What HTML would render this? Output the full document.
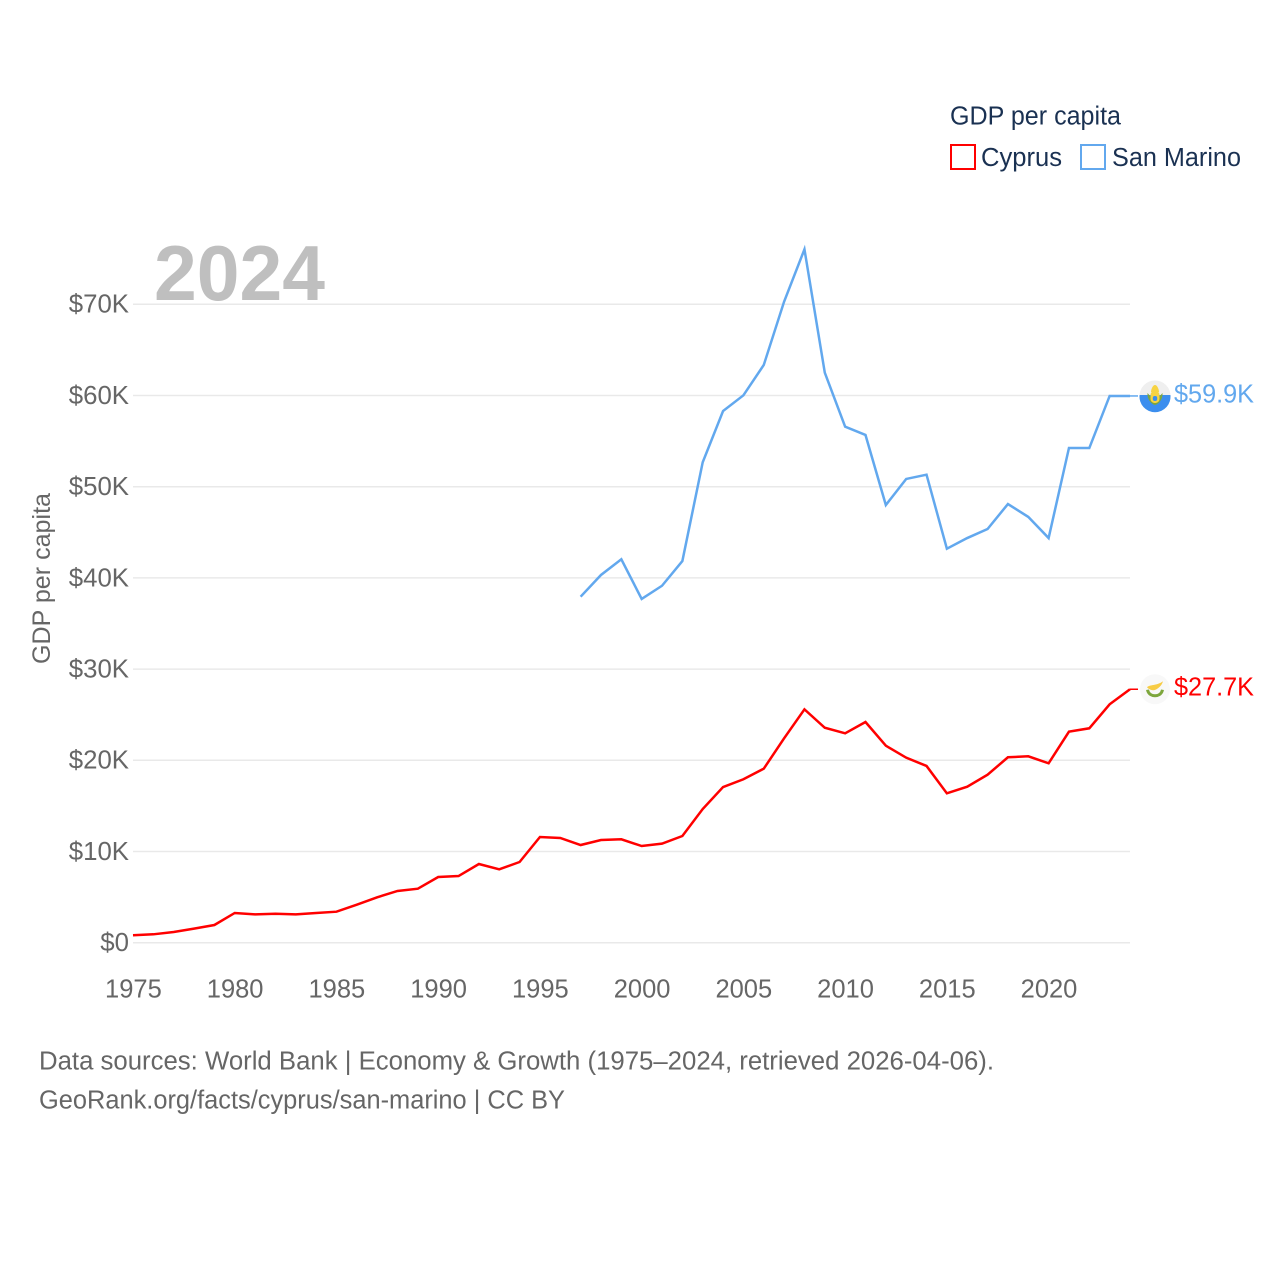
<!DOCTYPE html>
<html lang="en">
<head>
<meta charset="utf-8">
<title>GDP per capita: Cyprus and San Marino</title>
<style>
html,body{margin:0;padding:0;background:#fff;width:1280px;height:1280px;overflow:hidden}
svg{display:block}
text{font-family:"Liberation Sans",sans-serif}
</style>
</head>
<body>
<svg id="chart" xmlns="http://www.w3.org/2000/svg" width="1280" height="1280" viewBox="0 0 1280 1280">
  <rect x="0" y="0" width="1280" height="1280" fill="#ffffff"/>
  <g id="grid"></g>
  <text x="154" y="300" font-size="78" font-weight="700" fill="#bfbfbf" textLength="171" lengthAdjust="spacingAndGlyphs">2024</text>
  <g id="yticks"></g>
  <g id="xticks"></g>
  <text transform="translate(50,664) rotate(-90)" font-size="25" fill="#666666" textLength="171" lengthAdjust="spacingAndGlyphs">GDP per capita</text>
  <g id="series"></g>

  <g>
    <text x="950" y="124.5" font-size="25.5" fill="#1a3152" textLength="171" lengthAdjust="spacingAndGlyphs">GDP per capita</text>
    <g>
      <rect x="951" y="145" width="24" height="24" fill="#ffffff" stroke="#ff0000" stroke-width="2"/>
      <text x="981" y="166" font-size="25.5" fill="#1a3152" textLength="81" lengthAdjust="spacingAndGlyphs">Cyprus</text>
    </g>
    <g>
      <rect x="1081" y="145" width="24" height="24" fill="#ffffff" stroke="#62a8ee" stroke-width="2"/>
      <text x="1112" y="166" font-size="25.5" fill="#1a3152" textLength="129" lengthAdjust="spacingAndGlyphs">San Marino</text>
    </g>
  </g>

  <g id="flag-sm">
    <circle r="15.5" fill="#efefef"/>
    <path d="M-15.4 -1A15.5 15.5 0 1 0 15.4 -1Z" fill="#3b8eee"/>
    <path d="M-7.5 -3C-8 3 -4 8 0 9C4 8 8 3 7.5 -3L4 1L0 4L-4 1Z" fill="#7da63c"/>
    <rect x="-4.5" y="-5" width="9" height="12" rx="4" fill="#f7d343"/>
    <rect x="-2.2" y="0" width="4.4" height="5" rx="2" fill="#3b8eee"/>
    <path d="M-4 -4C-4 -7 -2 -11 0 -11C2 -11 4 -7 4 -4Z" fill="#f7d343"/>
  </g>
  <g id="flag-cy">
    <circle r="15" fill="#f8f8f8"/>
    <path d="M-8 -2C-5 -5 1 -3 8 -8C7 -4 3 0 -1 1C-4 1 -6 0 -8 -2Z" fill="#f7cc45"/>
    <path d="M-7.5 0.5C-6.5 5.5 -2.5 6.5 0 6.5C2.5 6.5 6.5 5.5 7.5 0.5" fill="none" stroke="#7da63c" stroke-width="3"/>
  </g>
  <g id="endlabels"></g>

  <g>
    <text x="39" y="1069.5" font-size="25.5" fill="#666666" textLength="955" lengthAdjust="spacingAndGlyphs">Data sources: World Bank | Economy &amp; Growth (1975–2024, retrieved 2026-04-06).</text>
    <text x="39" y="1108.3" font-size="25.5" fill="#666666" textLength="526" lengthAdjust="spacingAndGlyphs">GeoRank.org/facts/cyprus/san-marino | CC BY</text>
  </g>
</svg>
<script>
const yearTicks = [1975, 1980, 1985, 1990, 1995, 2000, 2005, 2010, 2015, 2020];
const valueTicks = [0, 10, 20, 30, 40, 50, 60, 70];
const valueTickLabels = ["$0", "$10K", "$20K", "$30K", "$40K", "$50K", "$60K", "$70K"];

const cyprusYears = [1975,1976,1977,1978,1979,1980,1981,1982,1983,1984,1985,1986,1987,1988,1989,1990,1991,1992,1993,1994,1995,1996,1997,1998,1999,2000,2001,2002,2003,2004,2005,2006,2007,2008,2009,2010,2011,2012,2013,2014,2015,2016,2017,2018,2019,2020,2021,2022,2023,2024];
const cyprusValues = [0.81,0.92,1.17,1.54,1.94,3.26,3.11,3.18,3.11,3.26,3.40,4.17,4.98,5.67,5.92,7.20,7.31,8.63,8.05,8.85,11.59,11.48,10.71,11.26,11.34,10.60,10.86,11.70,14.66,17.07,17.92,19.08,22.41,25.59,23.57,22.96,24.20,21.60,20.29,19.38,16.38,17.10,18.42,20.33,20.44,19.67,23.14,23.51,26.14,27.79];

const sanMarinoYears = [1997,1998,1999,2000,2001,2002,2003,2004,2005,2006,2007,2008,2009,2010,2011,2012,2013,2014,2015,2016,2017,2018,2019,2020,2021,2022,2023,2024];
const sanMarinoValues = [37.94,40.32,42.04,37.69,39.14,41.85,52.68,58.30,60.02,63.35,70.29,76.03,62.50,56.58,55.67,47.99,50.85,51.32,43.20,44.37,45.36,48.10,46.69,44.37,54.24,54.24,59.95,59.95];

const endLabels = ["$27.7K", "$59.9K"];

const NS = "http://www.w3.org/2000/svg";
const plotLeft = 133, plotRight = 1130, zeroY = 942.7, pxPerK = 9.12;
const firstYear = 1975, lastYear = 2024;
const RED = "#ff0000", BLUE = "#62a8ee";

function xScale(year) { return plotLeft + (year - firstYear) * (plotRight - plotLeft) / (lastYear - firstYear); }
function yScale(k) { return zeroY - k * pxPerK; }
function make(tag, attrs, parent, content) {
  const el = document.createElementNS(NS, tag);
  for (const key in attrs) el.setAttribute(key, attrs[key]);
  if (content !== undefined) el.textContent = content;
  parent.appendChild(el);
  return el;
}

const gridGroup = document.getElementById("grid");
const yTickGroup = document.getElementById("yticks");
valueTicks.forEach(function (v, i) {
  const line = make("line", { x1: plotLeft, x2: plotRight, y1: yScale(v), y2: yScale(v), stroke: "#e9e9e9", "stroke-width": 1.5 }, gridGroup);
  
  
  const label = make("text", { x: 129, y: yScale(v) + 8.4, "text-anchor": "end", "font-size": 25.8, fill: "#666666" }, yTickGroup, valueTickLabels[i]);
  
  
});

const xTickGroup = document.getElementById("xticks");
yearTicks.forEach(function (year) {
  const label = make("text", { x: xScale(year) + 0.4, y: 997.6, "text-anchor": "middle", "font-size": 25.5, fill: "#666666" }, xTickGroup, String(year));
  
  
});

function pathFor(years, values) {
  return years.map(function (year, i) {
    return (i ? "L" : "M") + xScale(year).toFixed(2) + " " + yScale(values[i]).toFixed(2);
  }).join(" ");
}

const seriesGroup = document.getElementById("series");
const cyprusLine = make("path", { d: pathFor(cyprusYears, cyprusValues), fill: "none", stroke: RED, "stroke-width": 2.5, "stroke-linejoin": "miter" }, seriesGroup);


const sanMarinoLine = make("path", { d: pathFor(sanMarinoYears, sanMarinoValues), fill: "none", stroke: BLUE, "stroke-width": 2.5, "stroke-linejoin": "miter" }, seriesGroup);



const cyprusEnd = yScale(cyprusValues[cyprusValues.length - 1]);
const sanMarinoEnd = yScale(sanMarinoValues[sanMarinoValues.length - 1]);

const cyprusConnector = make("line", { x1: plotRight, x2: 1138, y1: cyprusEnd, y2: cyprusEnd, stroke: RED, "stroke-width": 1.5 }, seriesGroup);


const sanMarinoConnector = make("line", { x1: plotRight, x2: 1138, y1: sanMarinoEnd, y2: sanMarinoEnd, stroke: BLUE, "stroke-width": 1.5 }, seriesGroup);



document.getElementById("flag-cy").setAttribute("transform", "translate(1155," + cyprusEnd + ")");
document.getElementById("flag-sm").setAttribute("transform", "translate(1155," + sanMarinoEnd + ")");

const endGroup = document.getElementById("endlabels");
const cyprusEndLabel = make("text", { x: 1174, y: cyprusEnd + 6, "font-size": 25.5, fill: RED, textLength: 80, lengthAdjust: "spacingAndGlyphs" }, endGroup, endLabels[0]);


const sanMarinoEndLabel = make("text", { x: 1174, y: sanMarinoEnd + 6.4, "font-size": 25.5, fill: BLUE, textLength: 80, lengthAdjust: "spacingAndGlyphs" }, endGroup, endLabels[1]);


</script>
</body>
</html>
